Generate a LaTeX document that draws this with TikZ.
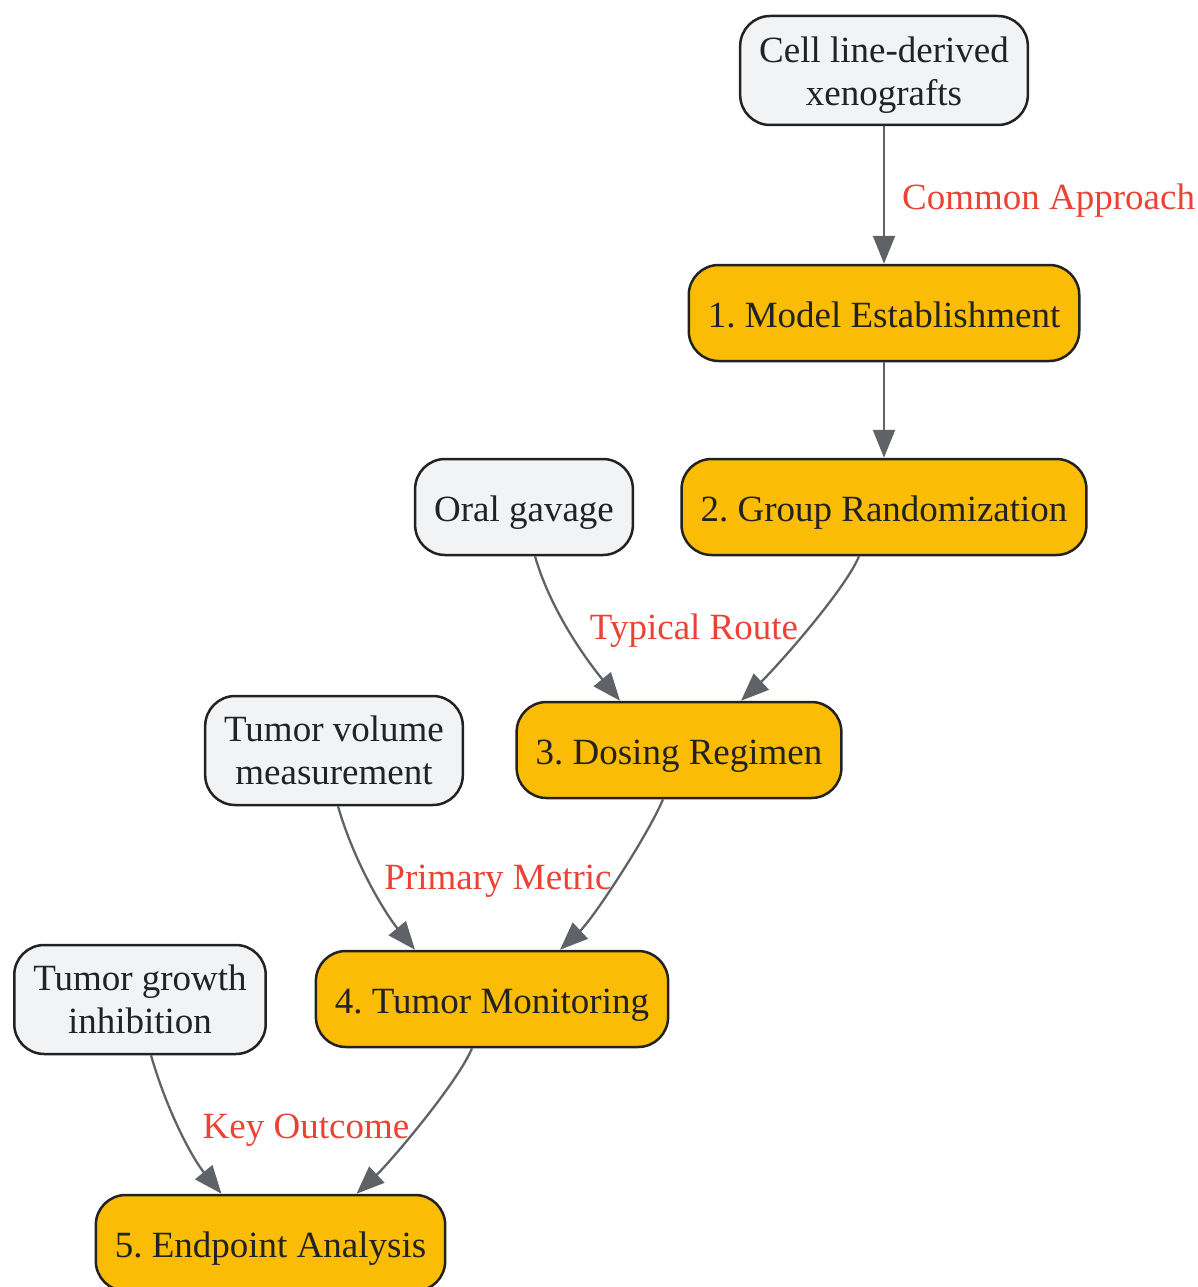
\documentclass[tikz,border=0pt]{standalone}
\usepackage{fontspec}
\setmainfont{Liberation Serif}
\usetikzlibrary{arrows.meta}
\definecolor{yel}{HTML}{FBBC05}
\definecolor{gry}{HTML}{F2F3F5}
\definecolor{edgec}{HTML}{5F6368}
\definecolor{lblc}{HTML}{EA4335}
\definecolor{txtc}{HTML}{222222}
\frenchspacing
\newcommand{\toppad}{\rule{0pt}{35pt}}
\begin{document}
\begin{tikzpicture}[x=1pt,y=-1pt,
  box/.style={draw=txtc, line width=2.5pt, rounded corners=30pt, inner xsep=19pt, inner ysep=0pt,
    text=txtc, font=\fontsize{37}{43}\selectfont, align=center},
  stepbox/.style={box, fill=yel, minimum height=96pt, text height=35pt, text depth=6pt},
  srcbox/.style={box, fill=gry, minimum height=109pt},
  srcone/.style={box, fill=gry, minimum height=96pt, text height=35pt, text depth=6pt},
  conn/.style={draw=edgec, line width=2.3pt, -{Triangle[length=28pt,width=22pt]}},
  lab/.style={text=lblc, font=\fontsize{37}{43}\selectfont, inner sep=0pt}]
\useasboundingbox (0,0) rectangle (1197,1287);

\node[srcbox]  (cell) at (884,70.5)  {\toppad Cell line-derived\\xenografts};
\node[stepbox] (m1)   at (884,313) {1. Model Establishment};
\node[stepbox] (m2)   at (884,507) {2. Group Randomization};
\node[srcone]  (oral) at (524,507) {Oral gavage};
\node[stepbox] (m3)   at (679,750) {3. Dosing Regimen};
\node[srcbox]  (vol)  at (334,750.5) {Tumor volume\\measurement};
\node[stepbox] (m4)   at (492,999) {4. Tumor Monitoring};
\node[srcbox]  (tgi)  at (140,999.5) {Tumor growth\\inhibition};
\node[stepbox] (m5)   at (270.5,1243) {5. Endpoint Analysis};

\draw[conn] (cell) -- (m1);
\draw[conn] (m1) -- (m2);
\draw[conn] ([xshift=11pt]oral.south) .. controls +(17,59) and +(-28,-34) .. ([xshift=-59pt]m3.north);
\draw[conn] ([xshift=-25pt]m2.south) .. controls +(-14,34) and +(34,-32) .. ([xshift=62pt]m3.north);
\draw[conn] ([xshift=4pt]vol.south) .. controls +(17,59) and +(-28,-34) .. ([xshift=-77pt]m4.north);
\draw[conn] ([xshift=-16pt]m3.south) .. controls +(-14,34) and +(34,-32) .. ([xshift=68pt]m4.north);
\draw[conn] ([xshift=11pt]tgi.south) .. controls +(17,59) and +(-28,-34) .. ([xshift=-49pt]m5.north);
\draw[conn] ([xshift=-20pt]m4.south) .. controls +(-14,34) and +(34,-32) .. ([xshift=86pt]m5.north);

\node[lab, anchor=west] (l1) at (902,201) {Common Approach};
\node[lab] (l2) at (694,631) {Typical Route};
\node[lab] (l3) at (498,881) {Primary Metric};
\node[lab] (l4) at (306,1130) {Key Outcome};
\end{tikzpicture}
\end{document}
